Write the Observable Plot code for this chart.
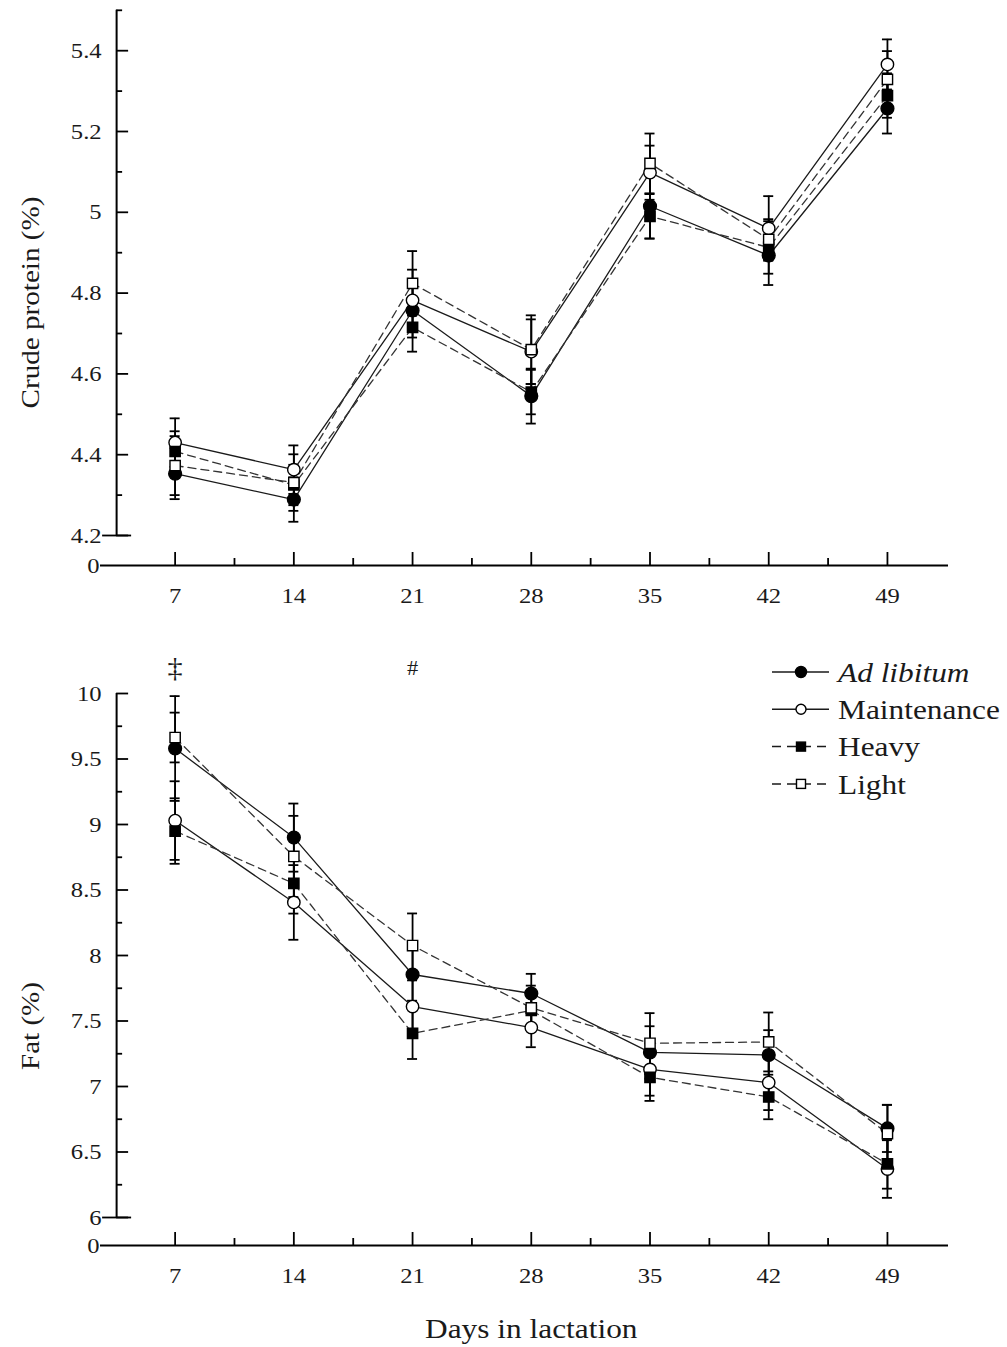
<!DOCTYPE html>
<html>
<head>
<meta charset="utf-8">
<script src="https://cdn.jsdelivr.net/npm/d3@7"></script>
<script src="https://cdn.jsdelivr.net/npm/@observablehq/plot@0.6"></script>
<style>
  html, body { margin: 0; padding: 0; background: #fff; }
  #figure { position: relative; width: 1007px; height: 1347px; }
  #figure svg { display: block; }
  #legend { position: absolute; left: 760px; top: 650px; }
</style>
</head>
<body>
<div id="figure"></div>
<script>
// Sampling days (days in lactation)
const days = [7, 14, 21, 28, 35, 42, 49];
const groups = ["Ad libitum", "Maintenance", "Heavy", "Light"];

// Crude protein (%) — means and standard errors per treatment
const proteinAdLib       = [4.353, 4.289, 4.757, 4.545, 5.015, 4.893, 5.257];
const proteinAdLibSE     = [0.063, 0.055, 0.067, 0.068, 0.080, 0.073, 0.062];
const proteinMaint       = [4.430, 4.363, 4.782, 4.655, 5.098, 4.960, 5.366];
const proteinMaintSE     = [0.060, 0.060, 0.076, 0.080, 0.067, 0.080, 0.062];
const proteinHeavy       = [4.408, 4.325, 4.715, 4.555, 4.990, 4.913, 5.289];
const proteinHeavySE     = [0.050, 0.050, 0.060, 0.055, 0.055, 0.065, 0.055];
const proteinLight       = [4.373, 4.331, 4.824, 4.660, 5.121, 4.933, 5.329];
const proteinLightSE     = [0.073, 0.070, 0.080, 0.085, 0.074, 0.050, 0.070];

// Fat (%) — means and standard errors per treatment
const fatAdLib   = [9.58, 8.90, 7.855, 7.71, 7.26, 7.24, 6.68];
const fatAdLibSE = [0.40, 0.26, 0.20, 0.15, 0.20, 0.19, 0.18];
const fatMaint   = [9.03, 8.405, 7.61, 7.45, 7.13, 7.03, 6.37];
const fatMaintSE = [0.30, 0.285, 0.20, 0.15, 0.20, 0.21, 0.22];
const fatHeavy   = [8.95, 8.55, 7.405, 7.58, 7.07, 6.92, 6.41];
const fatHeavySE = [0.25, 0.23, 0.195, 0.15, 0.18, 0.17, 0.19];
const fatLight   = [9.664, 8.756, 8.076, 7.60, 7.33, 7.34, 6.64];
const fatLightSE = [0.19, 0.31, 0.245, 0.17, 0.23, 0.225, 0.22];

// Y-axis ticks
const proteinMajor = [4.2, 4.4, 4.6, 4.8, 5.0, 5.2, 5.4];
const proteinMinor = [4.3, 4.5, 4.7, 4.9, 5.1, 5.3, 5.5];
const fatMajor = [6, 6.5, 7, 7.5, 8, 8.5, 9, 9.5, 10];
const fatMinor = [6.25, 6.75, 7.25, 7.75, 8.25, 8.75, 9.25, 9.75];
const minorDays = [10.5, 17.5, 24.5, 31.5, 38.5, 45.5];

// Significance marks above the fat panel
const daggerDays = [7];
const hashDays = [21];

const FONT = "'Liberation Serif', 'Times New Roman', serif";
const STRETCH = 1.12; // horizontal widening of all lettering

const style = {
  "Ad libitum":  {symbol: "circle", fill: "black", dash: null, r: 6.4},
  "Maintenance": {symbol: "circle", fill: "white", dash: null, r: 6.2},
  "Heavy":       {symbol: "square", fill: "black", dash: "8,5", r: 5.8},
  "Light":       {symbol: "square", fill: "white", dash: "8,5", r: 5.8}
};

function toRows(series) {
  const rows = [];
  groups.forEach((g, gi) => {
    const [vals, ses] = series[gi];
    days.forEach((d, i) => rows.push({group: g, day: d, value: vals[i], se: ses[i]}));
  });
  return rows;
}

const proteinRows = toRows([
  [proteinAdLib, proteinAdLibSE], [proteinMaint, proteinMaintSE],
  [proteinHeavy, proteinHeavySE], [proteinLight, proteinLightSE]
]);
const fatRows = toRows([
  [fatAdLib, fatAdLibSE], [fatMaint, fatMaintSE],
  [fatHeavy, fatHeavySE], [fatLight, fatLightSE]
]);

// Shared horizontal scale
const xDomain = [2.6, 52.6];
const xRange = [100, 948];
const axisDay = 3.55; // where the vertical axis stands
const xs = d3.scaleLinear(xDomain, xRange);
const dxPx = px => xs.invert(xs(axisDay) + px) - axisDay; // pixel length -> days

const textStyle = {fontFamily: FONT, fill: "#1a1a1a"};

function panel({rows, height, yDomain, yRange, major, minor, fmt, title, titleDy, extra = []}) {
  const ys = d3.scaleLinear(yDomain, yRange);
  const yLow = yDomain[1], yHigh = yDomain[yDomain.length - 1];
  const upPx = px => ys.invert(ys(0) - px); // pixel length upward from the x axis
  const capHalf = dxPx(5);
  const axisStroke = {stroke: "black", strokeWidth: 2};
  const tickStroke = {stroke: "black", strokeWidth: 1.8};

  const marks = [
    // x axis with its break value 0
    Plot.ruleY([0], {x1: xDomain[0], x2: xDomain[1], ...axisStroke}),
    Plot.ruleX(days, {x: d => d, y1: 0, y2: upPx(13), ...tickStroke}),
    Plot.ruleX(minorDays, {x: d => d, y1: 0, y2: upPx(7), ...tickStroke}),
    Plot.text(days, {x: d => d, y: 0, dy: 30, text: d => String(d), fontSize: 22, ...textStyle}),
    Plot.text([0], {x: xDomain[0], y: 0, dx: -1, text: () => "0", textAnchor: "end", fontSize: 22, ...textStyle}),
    // y axis
    Plot.ruleX([axisDay], {y1: yLow, y2: yHigh, ...axisStroke}),
    Plot.ruleY(major, {y: d => d, x1: axisDay, x2: axisDay + dxPx(12), ...tickStroke}),
    Plot.ruleY(minor, {y: d => d, x1: axisDay, x2: axisDay + dxPx(6), ...tickStroke}),
    Plot.ruleY([yLow], {y: d => d, x1: axisDay - dxPx(14), x2: axisDay + dxPx(15), ...tickStroke}),
    Plot.text(major, {x: axisDay, y: d => d, dx: -15, text: fmt, textAnchor: "end", fontSize: 22, ...textStyle}),
    // y title
    Plot.text([title], {frameAnchor: "left", dx: 30, dy: titleDy, rotate: -90, textAnchor: "middle", fontSize: 26, ...textStyle}),
    // error bars
    Plot.ruleX(rows, {x: "day", y1: d => d.value - d.se, y2: d => d.value + d.se, ...tickStroke}),
    Plot.ruleY(rows, {y: d => d.value + d.se, x1: d => d.day - capHalf, x2: d => d.day + capHalf, ...tickStroke}),
    Plot.ruleY(rows, {y: d => d.value - d.se, x1: d => d.day - capHalf, x2: d => d.day + capHalf, ...tickStroke})
  ];

  // treatment lines
  for (const g of groups) {
    const s = style[g];
    marks.push(Plot.line(rows.filter(d => d.group === g), {
      x: "day", y: "value", stroke: s.dash ? "#333" : "#1a1a1a", strokeWidth: 1.3,
      strokeDasharray: s.dash
    }));
  }
  // treatment markers
  for (const g of groups) {
    const s = style[g];
    marks.push(Plot.dot(rows.filter(d => d.group === g), {
      x: "day", y: "value", symbol: s.symbol, r: s.r, fill: s.fill, stroke: "black", strokeWidth: 1.4
    }));
  }

  return Plot.plot({
    width: 1007,
    height,
    margin: 0,
    x: {type: "linear", domain: xDomain, range: xRange, axis: null},
    y: {type: "linear", domain: yDomain, range: yRange, axis: null},
    style: {background: "white", overflow: "visible"},
    marks: [...marks, ...extra]
  });
}

const fig = document.getElementById("figure");

const topPlot = panel({
  rows: proteinRows,
  height: 620,
  yDomain: [0, 4.2, 5.5],
  yRange: [565, 535, 9.8],
  major: proteinMajor,
  minor: proteinMinor,
  fmt: d => (d === 5 ? "5" : d.toFixed(1)),
  title: "Crude protein (%)",
  titleDy: -8
});
fig.appendChild(topPlot);

const bottomPlot = panel({
  rows: fatRows,
  height: 727,
  yDomain: [0, 6, 10],
  yRange: [625, 597, 73],
  major: fatMajor,
  minor: fatMinor,
  fmt: d => String(d),
  title: "Fat (%)",
  titleDy: 42,
  extra: [
    Plot.text(daggerDays, {x: d => d, y: 10, dy: -25, text: () => "\u2021", fontSize: 27, ...textStyle}),
    Plot.text(hashDays, {x: d => d, y: 10, dy: -25, text: () => "#", fontSize: 20, ...textStyle}),
    Plot.text(["Days in lactation"], {x: 28, y: 0, dy: 84, fontSize: 28, ...textStyle})
  ]
});
fig.appendChild(bottomPlot);

// Widen lettering slightly around each label's own anchor
d3.select(fig).selectAll("svg text").each(function() {
  const t = this.getAttribute("transform");
  if (t) this.setAttribute("transform", `${t} scale(${STRETCH},1)`);
});

// Legend
const legend = d3.select(fig).append("svg")
  .attr("id", "legend")
  .attr("width", 247).attr("height", 160);
groups.forEach((g, i) => {
  const s = style[g];
  const y = 22 + 37.3 * i;
  const row = legend.append("g").attr("transform", `translate(0,${y})`);
  row.append("line").attr("x1", 12).attr("x2", 69).attr("y1", 0).attr("y2", 0)
    .attr("stroke", "#1a1a1a").attr("stroke-width", 1.5)
    .attr("stroke-dasharray", s.dash ? "9,6" : null);
  if (s.symbol === "circle") {
    row.append("circle").attr("cx", 41).attr("cy", 0).attr("r", s.fill === "black" ? 5.5 : 5)
      .attr("fill", s.fill).attr("stroke", "black").attr("stroke-width", 1.4);
  } else {
    row.append("rect").attr("x", 41 - 4.5).attr("y", -4.5).attr("width", 9).attr("height", 9)
      .attr("fill", s.fill).attr("stroke", "black").attr("stroke-width", 1.4);
  }
  row.append("text")
    .attr("transform", `translate(78,0) scale(${STRETCH},1)`)
    .attr("dy", "0.35em")
    .attr("font-family", FONT).attr("font-size", 28).attr("fill", "#1a1a1a")
    .attr("font-style", g === "Ad libitum" ? "italic" : null)
    .text(g);
});
</script>
</body>
</html>
